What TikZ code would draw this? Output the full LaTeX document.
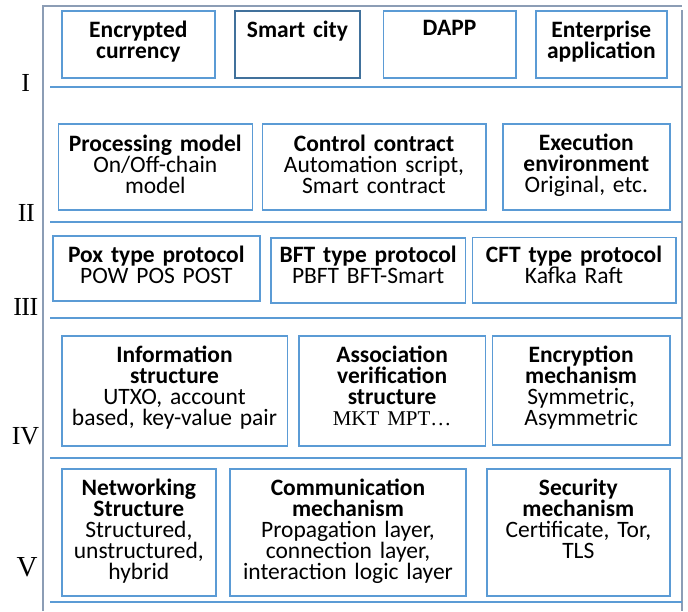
\documentclass[tikz,border=0pt]{standalone}
\usepackage{fontspec}
\setmainfont{Carlito}
\newfontfamily\numfont{Liberation Serif}
\usetikzlibrary{fit}
\definecolor{cellblue}{HTML}{5B9BD5}
\definecolor{darkcell}{HTML}{41719C}
\definecolor{framegray}{HTML}{8C9DB5}
\tikzset{
  cell/.style={draw=cellblue, line width=1.6pt, inner sep=0pt, rectangle},
  darkbox/.style={cell, draw=darkcell},
  celltxt/.style={anchor=base, align=center, text width=230pt, inner sep=0pt,
    font=\fontsize{23.5}{21}\selectfont},
  sepline/.style={draw=cellblue, line width=2pt},
  frameline/.style={draw=framegray, line width=2.4pt},
  numeral/.style={inner sep=0pt, font=\numfont\fontsize{26}{26}\selectfont}
}
% text block hanging from the top edge of a cell
\newcommand{\celltext}[4][27.5pt]{\node[celltxt] (#2) at ([yshift=-#1]#3.north) {#4};}
\begin{document}
\begin{tikzpicture}[x=1pt, y=-1pt]
\useasboundingbox (0,0) rectangle (688,611);

% outer frame
\coordinate (fTL) at (42.7,6);
\coordinate (fTR) at (681.7,6);
\coordinate (fBL) at (42.7,611);
\coordinate (fRT) at (681.7,10);
\coordinate (fBR) at (681.7,611);
\draw[frameline] (fBL) -- (fTL) -- (fTR);
\draw[frameline] (fRT) -- (fBR);

% layer separators
\foreach \n/\y in {1/87.3, 2/221.7, 3/318.3, 4/458.3, 5/602.3}{
  \coordinate (s\n a) at (50,\y);
  \coordinate (s\n b) at (681.7,\y);
  \draw[sepline] (s\n a) -- (s\n b);
}

% layer numerals
\node[numeral] (nI)   at (25.8,82.5)  {I};
\node[numeral] (nII)  at (26.3,212.5) {I\kern-0.6pt I};
\node[numeral] (nIII) at (25.8,306.5) {I\kern-0.6pt I\kern-0.6pt I};
\node[numeral] (nIV)  at (25.5,436.5) {IV};
\node[numeral, font=\numfont\fontsize{29}{29}\selectfont] (nV) at (27,567) {V};

% layer I
\node[cell, fit={(61.7,10.7) (215,77.7)}] (enc) {};
\node[darkbox, fit={(235,10.7) (360,77.7)}] (city) {};
\node[cell, fit={(383.3,10.7) (515.7,77.7)}] (dapp) {};
\node[cell, fit={(536,10.7) (666.7,77.7)}] (ent) {};
\celltext{encT}{enc}{\textbf{Encrypted}\\\textbf{currency}}
\celltext{cityT}{city}{\textbf{Smart city}}
\celltext[26pt]{dappT}{dapp}{\textbf{DAPP}}
\celltext{entT}{ent}{\textbf{Enterprise}\\\textbf{application}}

% layer II
\node[cell, fit={(58.3,124) (252.3,210)}] (proc) {};
\node[cell, fit={(262.3,124) (485.7,210)}] (ctrl) {};
\node[cell, fit={(502.7,124) (670,210)}] (exec) {};
\celltext[28pt]{procT}{proc}{\textbf{Processing model}\\On/Off-chain\\model}
\celltext[28pt]{ctrlT}{ctrl}{\textbf{Control contract}\\Automation script,\\Smart contract}
\celltext[27pt]{execT}{exec}{\textbf{Execution}\\\textbf{environment}\\Original, etc.}

% layer III
\node[cell, fit={(52.7,236) (260,301)}] (pox) {};
\node[cell, fit={(271,237.7) (465.3,302.7)}] (bft) {};
\node[cell, fit={(472.3,237.3) (675.7,302.7)}] (cft) {};
\celltext{poxT}{pox}{\textbf{Pox type protocol}\\POW POS POST}
\celltext[26pt]{bftT}{bft}{\textbf{BFT type protocol}\\PBFT BFT-Smart}
\celltext[26pt]{cftT}{cft}{\textbf{CFT type protocol}\\Kafka Raft}

% layer IV
\node[cell, fit={(61.7,336) (287.3,446)}] (info) {};
\node[cell, fit={(299,336) (485.3,446)}] (assoc) {};
\node[cell, fit={(492.3,336) (670,445)}] (encm) {};
\celltext{infoT}{info}{\textbf{Information}\\\textbf{structure}\\UTXO, account\\based, key-value pair}
\celltext{assocT}{assoc}{\textbf{Association}\\\textbf{verification}\\\textbf{structure}\\{\numfont\fontsize{21}{21}\selectfont MKT MPT\ldots}}
\celltext{encmT}{encm}{\textbf{Encryption}\\\textbf{mechanism}\\Symmetric,\\Asymmetric}

% layer V
\node[cell, fit={(61.7,469) (216,595.7)}] (net) {};
\node[cell, fit={(230,469) (466,595.7)}] (comm) {};
\node[cell, fit={(486.7,469) (670,595.7)}] (sec) {};
\celltext[27pt]{netT}{net}{\textbf{Networking}\\\textbf{Structure}\\Structured,\\unstructured,\\hybrid}
\celltext[27pt]{commT}{comm}{\textbf{Communication}\\\textbf{mechanism}\\Propagation layer,\\connection layer,\\interaction logic layer}
\celltext[27pt]{secT}{sec}{\textbf{Security}\\\textbf{mechanism}\\Certificate, Tor,\\TLS}
\end{tikzpicture}
\end{document}
